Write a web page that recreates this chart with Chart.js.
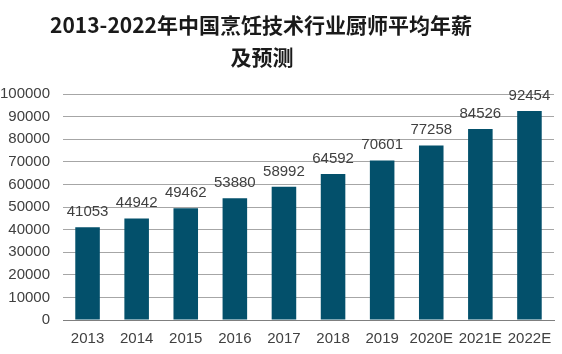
<!DOCTYPE html>
<html>
<head>
<meta charset="utf-8">
<script src="https://cdn.jsdelivr.net/npm/chart.js@4/dist/chart.umd.min.js"></script>
<style>
  html, body { margin: 0; padding: 0; background: #fff; }
  #wrap { width: 562px; height: 354px; }
</style>
</head>
<body>
<div id="wrap"><canvas id="salaryChart"></canvas></div>
<script>
const years = ['2013', '2014', '2015', '2016', '2017', '2018', '2019', '2020E', '2021E', '2022E'];
const salaries = [41053, 44942, 49462, 53880, 58992, 64592, 70601, 77258, 84526, 92454];
const titleLines = ['2013-2022年中国烹饪技术行业厨师平均年薪', '及预测'];

const FONT = '"Liberation Sans", Arial, sans-serif';

// title drawn by hand, it sits a bit left of the canvas centre
const titlePlugin = {
    id: 'titlePlugin',
    afterDraw(chart) {
        const ctx = chart.ctx;
        ctx.save();
        ctx.font = 'bold 21px "Noto Sans CJK SC", sans-serif';
        ctx.fillStyle = '#1a1a1a';
        ctx.textAlign = 'center';
        ctx.textBaseline = 'middle';
        ctx.fillText(titleLines[0], 261, 25);
        ctx.fillText(titleLines[1], 262, 57);
        ctx.restore();
    }
};

// labels above bars
const barLabels = {
    id: 'barLabels',
    afterDatasetsDraw(chart) {
        const ctx = chart.ctx;
        const meta = chart.getDatasetMeta(0);
        ctx.save();
        ctx.font = '15px ' + FONT;
        ctx.fillStyle = '#404040';
        ctx.textAlign = 'center';
        ctx.textBaseline = 'alphabetic';
        meta.data.forEach((bar, i) => {
            ctx.fillText(salaries[i], bar.x, bar.y - 11);
        });
        ctx.restore();
    }
};

const ctx = document.getElementById('salaryChart').getContext('2d');
new Chart(ctx, {
    type: 'bar',
    data: {
        labels: years,
        datasets: [{
            data: salaries,
            backgroundColor: '#03506b',
            barPercentage: 0.5,
            categoryPercentage: 1.0
        }]
    },
    options: {
        responsive: true,
        maintainAspectRatio: false,
        animation: false,
        layout: { padding: { left: 0, right: 8, top: 94, bottom: 0 } },
        scales: {
            y: {
                min: 0,
                max: 100000,
                afterFit: (scale) => { scale.width = 63; },
                ticks: {
                    stepSize: 10000,
                    autoSkip: false,
                    color: '#404040',
                    font: { size: 15, family: FONT },
                    padding: 13,
                    callback: (v) => String(v)
                },
                grid: { color: '#a6a6a6', drawTicks: false, lineWidth: 1 },
                border: { display: false }
            },
            x: {
                afterFit: (scale) => { scale.height = 34; },
                ticks: {
                    color: '#404040',
                    font: { size: 15, family: FONT },
                    padding: 10,
                    autoSkip: false,
                    maxRotation: 0,
                    minRotation: 0
                },
                grid: { display: false, drawTicks: false },
                border: { color: '#7f7f7f' }
            }
        },
        plugins: {
            legend: { display: false },
            tooltip: { enabled: false },
            title: { display: false }
        }
    },
    plugins: [barLabels, titlePlugin]
});
</script>
</body>
</html>
